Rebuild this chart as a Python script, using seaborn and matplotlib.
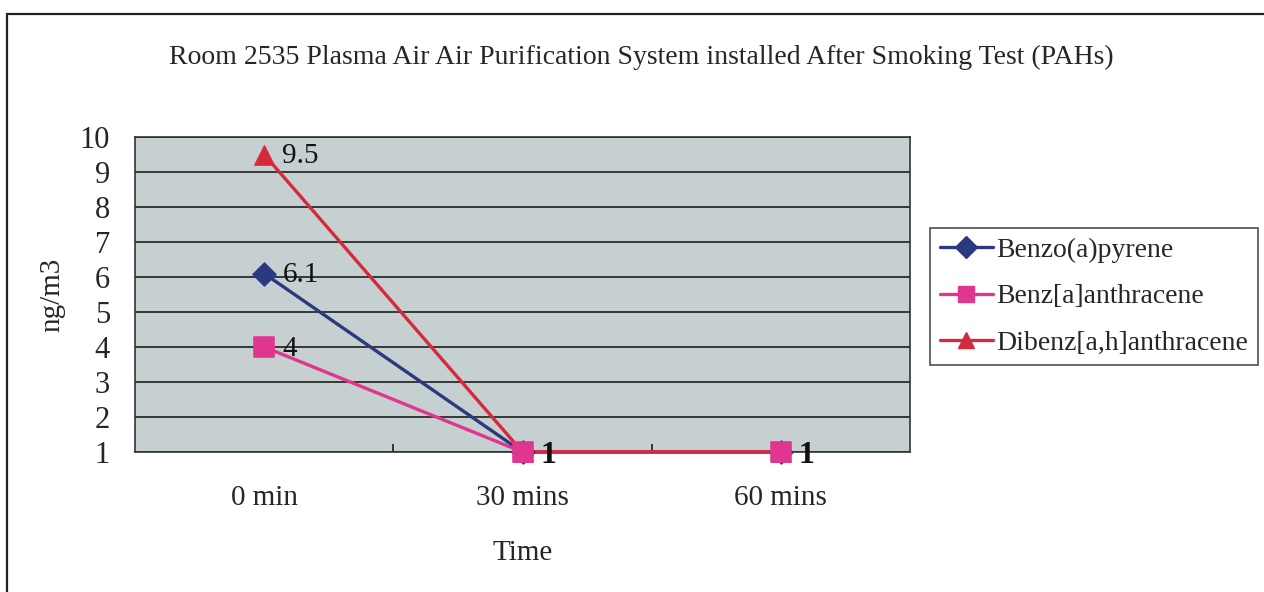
import matplotlib
matplotlib.use('Agg')
import matplotlib.pyplot as plt
import matplotlib.patches as mpatches
from matplotlib.lines import Line2D
import pandas as pd
import seaborn as sns

# Chart data
times = ['0 min', '30 mins', '60 mins']
benzo_a_pyrene = [6.1, 1, 1]
benz_a_anthracene = [4, 1, 1]
dibenz_ah_anthracene = [9.5, 1, 1]
series_names = ['Benzo(a)pyrene', 'Benz[a]anthracene', 'Dibenz[a,h]anthracene']
series_values = [benzo_a_pyrene, benz_a_anthracene, dibenz_ah_anthracene]
series_colors = ['#2b3a80', '#e0368f', '#d42a3c']
series_markers = ['D', 's', '^']
marker_sizes = [140, 200, 190]
# which points carry a data label
label_points = {
    'Benzo(a)pyrene': [0],
    'Benz[a]anthracene': [0, 1, 2],
    'Dibenz[a,h]anthracene': [0],
}

sns.set_theme(style='white')
plt.rcParams['font.family'] = ['Liberation Serif', 'DejaVu Serif']

df = pd.DataFrame({
    'time': times * 3,
    'x': list(range(len(times))) * 3,
    'value': benzo_a_pyrene + benz_a_anthracene + dibenz_ah_anthracene,
    'series': [s for s in series_names for _ in times],
})

fig = plt.figure(figsize=(12.64, 5.92), dpi=100)
fig.patch.set_facecolor('white')
# outer chart border
fig.add_artist(mpatches.Rectangle((7 / 1264, -0.01), 1.02, 1 - 14 / 592 + 0.01,
                                  transform=fig.transFigure, fill=False,
                                  edgecolor='#222222', linewidth=1.6))

ax = fig.add_axes([135 / 1264, 1 - 452 / 592, (910 - 135) / 1264, (452 - 137) / 592])
ax.set_facecolor('#c7d0d0')

# lines first (red on top), then markers (pink on top)
for i in [0, 1, 2]:
    sub = df[df['series'] == series_names[i]]
    sns.lineplot(data=sub, x='x', y='value', color=series_colors[i], linewidth=2.4,
                 ax=ax, legend=False, zorder=3 + i, clip_on=False)
for k, i in enumerate([0, 2, 1]):
    sub = df[df['series'] == series_names[i]]
    sns.scatterplot(data=sub, x='x', y='value', color=series_colors[i], marker=series_markers[i],
                    s=marker_sizes[i], edgecolor=series_colors[i], ax=ax, legend=False,
                    zorder=10 + k, clip_on=False)

# data labels
for name, vals in zip(series_names, series_values):
    for j in label_points[name]:
        v = vals[j]
        if v == 1:
            ax.text(j + 0.07, v - 0.1, f'{v:g}', fontsize=23, va='center', ha='left',
                    color='#111111', fontweight='bold', zorder=20, clip_on=False)
        else:
            ax.text(j + 0.07, v - 0.05, f'{v:g}', fontsize=21, va='center', ha='left',
                    color='#111111', zorder=20)

ax.set_xlim(-0.5, 2.5)
ax.set_ylim(1, 10)
ax.set_yticks(range(1, 11))
ax.set_xticks([0.5, 1.5])
ax.set_xticklabels([])
ax.tick_params(axis='x', direction='in', length=6, color='#222222', bottom=True)
ax.tick_params(axis='y', length=0, labelsize=22, pad=18)
for j, t in enumerate(times):
    ax.text(j, -0.105, t, transform=ax.get_xaxis_transform(), ha='center', va='top', fontsize=21)
ax.yaxis.grid(True, color='#1e1e1e', linewidth=1.2)
ax.set_axisbelow(True)
for sp in ax.spines.values():
    sp.set_color('#333333')
    sp.set_linewidth(1.2)

ax.set_xlabel('Time', fontsize=21, labelpad=60)
ax.set_ylabel('ng/m3', fontsize=21, labelpad=10)

fig.text(641 / 1264, 1 - 57 / 592, 'Room 2535 Plasma Air Air Purification System installed After Smoking Test (PAHs)',
         ha='center', va='center', fontsize=20)

handles = [Line2D([0], [0], color=c, marker=m, markersize=11, linewidth=2.4, markeredgecolor=c)
           for c, m in zip(series_colors, series_markers)]
leg = fig.legend(handles, series_names, loc='upper left', bbox_to_anchor=(930 / 1264, 1 - 228 / 592),
                 frameon=True, fancybox=False, fontsize=20, handlelength=1.9, handletextpad=0.15,
                 borderpad=0.35, labelspacing=0.75, borderaxespad=0)
leg.get_frame().set_edgecolor('#222222')
leg.get_frame().set_linewidth(1.2)

fig.savefig('out.png', dpi=100)
